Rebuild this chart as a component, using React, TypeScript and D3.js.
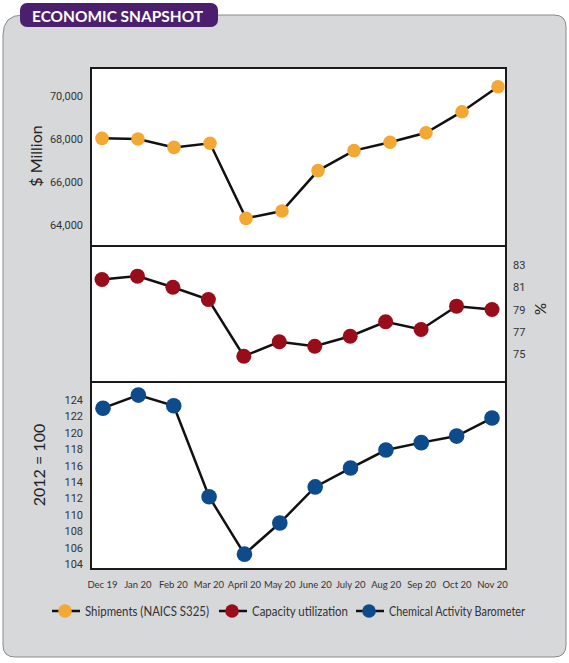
import * as d3 from 'd3';
import React, { useRef, useEffect } from 'react';

const months = ['Dec 19', 'Jan 20', 'Feb 20', 'Mar 20', 'April 20', 'May 20', 'June 20', 'July 20', 'Aug 20', 'Sep 20', 'Oct 20', 'Nov 20'];
const shipments = [68030, 68000, 67610, 67800, 64310, 64650, 66530, 67460, 67850, 68290, 69270, 70430];
const capacity = [81.7, 82.0, 81.0, 79.9, 74.8, 76.1, 75.7, 76.6, 77.9, 77.2, 79.3, 79.0];
const cab = [123.0, 124.6, 123.3, 112.2, 105.2, 109.0, 113.4, 115.7, 117.9, 118.8, 119.6, 121.8];

const shipTicks = [64000, 66000, 68000, 70000];
const capTicks = [75, 77, 79, 81, 83];
const cabTicks = [104, 106, 108, 110, 112, 114, 116, 118, 120, 122, 124];

const legendItems = [
  { label: 'Shipments (NAICS S325)', color: '#f2a833', x: 65, w: 124 },
  { label: 'Capacity utilization', color: '#990d1b', x: 232, w: 96 },
  { label: 'Chemical Activity Barometer', color: '#0d4b8a', x: 369, w: 136 },
];

const W = 569, H = 663;

export default function App() {
  const svgRef = useRef(null);

  useEffect(() => {
    if (!svgRef.current) return;
    const svg = d3.select(svgRef.current);
    svg.selectAll('*').remove();

    // outer grey panel with rounded corners
    const x0 = 3, y0 = 15, x1 = 566, y1 = 657, rTL = 20, r = 12;
    const panel = `M${x0},${y0 + rTL} Q${x0},${y0} ${x0 + rTL},${y0} L${x1 - r},${y0} Q${x1},${y0} ${x1},${y0 + r}
      L${x1},${y1 - r} Q${x1},${y1} ${x1 - r},${y1} L${x0 + r},${y1} Q${x0},${y1} ${x0},${y1 - r} Z`;
    svg.append('path').attr('d', panel).attr('fill', '#d7d8da').attr('stroke', '#8a8a8a').attr('stroke-width', 1);

    // title tab
    svg.append('rect').attr('x', 20).attr('y', 3).attr('width', 198).attr('height', 24).attr('rx', 7).attr('fill', '#4b1f6d');
    svg.append('text').attr('x', 32).attr('y', 21.5).attr('fill', '#fff')
      .attr('font-family', 'Lato, sans-serif').attr('font-weight', 700).attr('font-size', 15.5)
      .attr('textLength', 171).attr('lengthAdjust', 'spacingAndGlyphs').text('ECONOMIC SNAPSHOT');

    const left = 91, right = 506;
    const panels = [
      { top: 68, bottom: 246, data: shipments, domain: [64000, 70000], range: [225, 96], ticks: shipTicks, color: '#f2a833', r: 6.8, xr: [102, 498], side: 'left', fmt: d3.format(',') },
      { top: 246, bottom: 382, data: capacity, domain: [75, 83], range: [354, 265], ticks: capTicks, color: '#990d1b', r: 7.5, xr: [102, 492], side: 'right', fmt: d3.format('d') },
      { top: 382, bottom: 569, data: cab, domain: [104, 124], range: [564, 400], ticks: cabTicks, color: '#0d4b8a', r: 7.8, xr: [103, 492], side: 'left', fmt: d3.format('d') },
    ];

    panels.forEach((p) => {
      svg.append('rect').attr('x', left).attr('y', p.top).attr('width', right - left).attr('height', p.bottom - p.top)
        .attr('fill', '#fff').attr('stroke', '#1a1a1a').attr('stroke-width', 2);

      const x = d3.scalePoint().domain(months).range(p.xr);
      const y = d3.scaleLinear().domain(p.domain).range(p.range);

      const axis = p.side === 'left'
        ? d3.axisLeft(y).tickValues(p.ticks).tickSize(0).tickPadding(8).tickFormat(p.fmt)
        : d3.axisRight(y).tickValues(p.ticks).tickSize(0).tickPadding(7).tickFormat(p.fmt);
      const g = svg.append('g').attr('transform', `translate(${p.side === 'left' ? left : right},0)`).call(axis);
      g.select('.domain').remove();
      g.selectAll('text').attr('font-family', 'Roboto, sans-serif').attr('font-size', 11).attr('fill', '#333');

      const line = d3.line<number>().x((_, i) => x(months[i])!).y((d) => y(d));
      svg.append('path').datum(p.data).attr('d', line).attr('fill', 'none').attr('stroke', '#111').attr('stroke-width', 2.5);
      svg.append('g').selectAll('circle').data(p.data).enter().append('circle')
        .attr('cx', (_, i) => x(months[i])!).attr('cy', (d) => y(d)).attr('r', p.r).attr('fill', p.color);
    });

    // axis titles
    svg.append('text').attr('transform', 'translate(42,156) rotate(-90)').attr('text-anchor', 'middle')
      .attr('font-family', 'Lato, sans-serif').attr('font-size', 16).attr('fill', '#222').text('$ Million');
    svg.append('text').attr('transform', 'translate(45,465) rotate(-90)').attr('text-anchor', 'middle')
      .attr('font-family', 'Lato, sans-serif').attr('font-size', 16).attr('fill', '#222').text('2012 = 100');
    svg.append('text').attr('transform', 'translate(535,309) rotate(90)').attr('text-anchor', 'middle')
      .attr('font-family', 'Lato, sans-serif').attr('font-size', 15).attr('fill', '#222').text('%');

    // month labels
    const xb = d3.scalePoint().domain(months).range([102, 492]);
    const xa = svg.append('g').attr('transform', 'translate(0,575)').call(d3.axisBottom(xb).tickSize(0).tickPadding(6));
    xa.select('.domain').remove();
    xa.selectAll('text').attr('font-family', 'Lato, sans-serif').attr('font-size', 9.5).attr('fill', '#333');

    // legend
    const lg = svg.append('g').selectAll('g').data(legendItems).enter().append('g');
    lg.append('line').attr('x1', (d) => d.x - 13).attr('x2', (d) => d.x + 15).attr('y1', 611).attr('y2', 611)
      .attr('stroke', '#111').attr('stroke-width', 2.5);
    lg.append('circle').attr('cx', (d) => d.x).attr('cy', 611).attr('r', 6.8).attr('fill', (d) => d.color);
    lg.append('text').attr('x', (d) => d.x + 20).attr('y', 616).attr('font-family', 'Lato, sans-serif')
      .attr('font-size', 14).attr('fill', '#333').attr('textLength', (d) => d.w).attr('lengthAdjust', 'spacingAndGlyphs')
      .text((d) => d.label);
  }, []);

  return (
    <svg ref={svgRef} width={W} height={H} style={{ position: 'absolute', left: 0, top: 0 }} />
  );
}
